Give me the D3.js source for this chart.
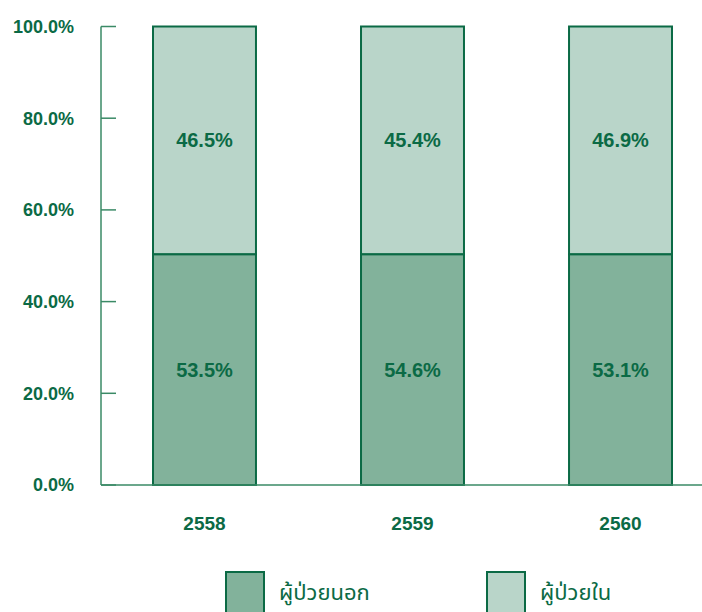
<!DOCTYPE html>
<html>
<head>
<meta charset="utf-8">
<script src="https://cdn.jsdelivr.net/npm/d3@7"></script>
<style>
  body { margin: 0; background: #fff; }
  svg text { font-family: "Liberation Sans", Arial, sans-serif; font-weight: bold; fill: #0b6a45; }
  .legend text { font-family: "Noto Sans", "Noto Sans Thai", "DejaVu Sans", sans-serif; font-weight: normal; }
</style>
</head>
<body>
<svg id="chart" width="702" height="612"></svg>
<script>
// data
var years = ['2558', '2559', '2560'];
var outpatientLabel = [53.5, 54.6, 53.1];   // printed values
var inpatientLabel = [46.5, 45.4, 46.9];
// split as drawn in the bars (all three boundaries sit at about 50%)
var outpatientBar = [50.3, 50.3, 50.3];
var yTicks = [0, 0.2, 0.4, 0.6, 0.8, 1.0];
var seriesNames = ['ผู้ป่วยนอก', 'ผู้ป่วยใน'];

var darkGreen = '#0b6a45';
var fills = ['#82b29b', '#b9d5c9'];

var svg = d3.select('#chart');

var x = d3.scaleBand()
  .domain(years)
  .range([101, 724])
  .paddingInner(0.505)
  .paddingOuter(0.25);

var y = d3.scaleLinear()
  .domain([0, 1])
  .range([485, 26.5]);

// y axis line + ticks pointing inward
svg.append('line')
  .attr('x1', 101).attr('x2', 101)
  .attr('y1', y(1)).attr('y2', y(0))
  .attr('stroke', '#3a8a66').attr('stroke-width', 1.5);

svg.selectAll('.ytick')
  .data(yTicks)
  .enter()
  .append('line')
  .attr('class', 'ytick')
  .attr('x1', 101).attr('x2', 116)
  .attr('y1', d => y(d)).attr('y2', d => y(d))
  .attr('stroke', '#3a8a66').attr('stroke-width', 1.5);

svg.selectAll('.ylabel')
  .data(yTicks)
  .enter()
  .append('text')
  .attr('class', 'ylabel')
  .attr('x', 74)
  .attr('y', d => y(d))
  .attr('dy', '0.35em')
  .attr('text-anchor', 'end')
  .style('font-size', '18px')
  .text(d => d3.format('.1%')(d));

// bars
var rows = years.map((yr, i) => ({
  year: yr,
  split: outpatientBar[i] / 100,
  outLabel: outpatientLabel[i],
  inLabel: inpatientLabel[i]
}));

var bar = svg.selectAll('.bar')
  .data(rows)
  .enter()
  .append('g')
  .attr('class', 'bar');

bar.append('rect')
  .attr('x', d => x(d.year))
  .attr('y', d => y(1))
  .attr('width', x.bandwidth())
  .attr('height', d => y(d.split) - y(1))
  .attr('fill', fills[1])
  .attr('stroke', darkGreen)
  .attr('stroke-width', 2);

bar.append('rect')
  .attr('x', d => x(d.year))
  .attr('y', d => y(d.split))
  .attr('width', x.bandwidth())
  .attr('height', d => y(0) - y(d.split))
  .attr('fill', fills[0])
  .attr('stroke', darkGreen)
  .attr('stroke-width', 2);

bar.append('text')
  .attr('x', d => x(d.year) + x.bandwidth() / 2)
  .attr('y', d => (y(1) + y(d.split)) / 2)
  .attr('dy', '0.35em')
  .attr('text-anchor', 'middle')
  .style('font-size', '20px')
  .text(d => d.inLabel.toFixed(1) + '%');

bar.append('text')
  .attr('x', d => x(d.year) + x.bandwidth() / 2)
  .attr('y', d => (y(0) + y(d.split)) / 2)
  .attr('dy', '0.35em')
  .attr('text-anchor', 'middle')
  .style('font-size', '20px')
  .text(d => d.outLabel.toFixed(1) + '%');

// baseline
svg.append('line')
  .attr('x1', 101).attr('x2', 702)
  .attr('y1', y(0)).attr('y2', y(0))
  .attr('stroke', '#3a8a66').attr('stroke-width', 1.5);

// x labels
svg.selectAll('.xlabel')
  .data(years)
  .enter()
  .append('text')
  .attr('class', 'xlabel')
  .attr('x', d => x(d) + x.bandwidth() / 2)
  .attr('y', 523)
  .attr('dy', '0.35em')
  .attr('text-anchor', 'middle')
  .style('font-size', '19px')
  .text(d => d);

// legend
var legend = svg.append('g').attr('class', 'legend');
var legendX = d3.scalePoint().domain(seriesNames).range([226, 487]);

var item = legend.selectAll('g')
  .data(seriesNames)
  .enter()
  .append('g')
  .attr('transform', d => `translate(${legendX(d)}, 572)`);

item.append('rect')
  .attr('width', 38)
  .attr('height', 45)
  .attr('fill', (d, i) => fills[i])
  .attr('stroke', darkGreen)
  .attr('stroke-width', 2);

item.append('text')
  .attr('x', 53)
  .attr('y', 20)
  .attr('dy', '0.35em')
  .style('font-size', '22px')
  .text(d => d);
</script>
</body>
</html>
